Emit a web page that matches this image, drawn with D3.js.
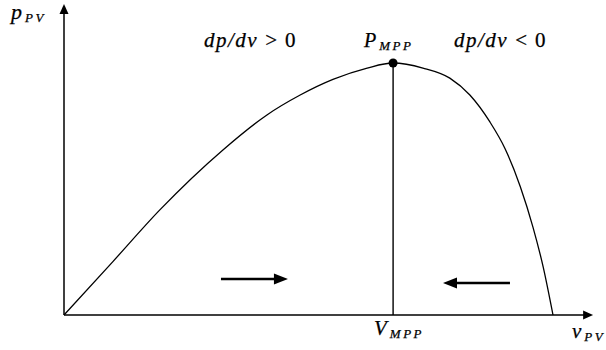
<!DOCTYPE html>
<html>
<head>
<meta charset="utf-8">
<script src="https://cdn.jsdelivr.net/npm/d3@7"></script>
<style>
  html, body { margin: 0; padding: 0; background: #fff; }
  svg { display: block; }
  text { font-family: "Liberation Serif", "Times New Roman", serif; font-style: italic; fill: #000;
         stroke: #000; stroke-width: 0.25; }
</style>
</head>
<body>
<svg id="chart" width="606" height="350"></svg>
<script>
// PV power–voltage characteristic, per-unit (v / Voc, p / Pmpp)
const voltage = [0, 0.100, 0.196, 0.325, 0.415, 0.483, 0.550, 0.620,
                 0.673, 0.734, 0.789, 0.830, 0.871, 0.902, 0.933, 0.959, 0.980, 1.0];
const power   = [0, 0.212, 0.417, 0.655, 0.794, 0.873, 0.935, 0.980,
                 1.0, 0.980, 0.940, 0.873, 0.766, 0.660, 0.510, 0.349, 0.190, 0];

// maximum power point
const vMpp = [0.673];
const pMpp = [1.0];

// axis extents (per-unit)
const vAxisMax = [1.082];
const pAxisMax = [1.234];

// text labels: [main, subscript]
const yLabel = ["p", "PV"];
const xLabel = ["v", "PV"];
const mppLabel = ["P", "MPP"];
const vMppLabel = ["V", "MPP"];
// slope conditions: [expression, relation, value]
const slopeLabels = [["dp/dv", ">", "0"], ["dp/dv", "<", "0"]];

const svg = d3.select("#chart");

const x = d3.scaleLinear().domain([0, 1]).range([64, 553]);
const y = d3.scaleLinear().domain([0, 1]).range([315, 63]);

// filled triangle with its tip at (tx, ty)
function head(tx, ty, dir, len, half) {
  let pts;
  if (dir === "right") pts = [[tx, ty], [tx - len, ty - half], [tx - len, ty + half]];
  if (dir === "left")  pts = [[tx, ty], [tx + len, ty - half], [tx + len, ty + half]];
  if (dir === "up")    pts = [[tx, ty], [tx - half, ty + len], [tx + half, ty + len]];
  return "M" + pts.map(p => p.join(",")).join("L") + "Z";
}

// axes with arrowheads
const axisG = svg.append("g");
axisG.append("line")
  .attr("x1", x(0)).attr("y1", y(0))
  .attr("x2", x(vAxisMax[0]) - 6).attr("y2", y(0))
  .attr("stroke", "#000").attr("stroke-width", 1.5);
axisG.append("line")
  .attr("x1", x(0)).attr("y1", y(0))
  .attr("x2", x(0)).attr("y2", y(pAxisMax[0]) + 6)
  .attr("stroke", "#000").attr("stroke-width", 1.5);
axisG.append("path").attr("d", head(x(vAxisMax[0]), y(0), "right", 10, 4.5)).attr("fill", "#000");
axisG.append("path").attr("d", head(x(0), y(pAxisMax[0]), "up", 10, 4.5)).attr("fill", "#000");

// P–V curve
const pts = voltage.map((v, i) => [v, power[i]]);
const line = d3.line()
  .x(d => x(d[0]))
  .y(d => y(d[1]))
  .curve(d3.curveMonotoneX);
svg.append("path")
  .datum(pts)
  .attr("d", line)
  .attr("fill", "none")
  .attr("stroke", "#000")
  .attr("stroke-width", 1.3);

// vertical line at V_MPP and MPP marker
svg.append("line")
  .attr("x1", x(vMpp[0])).attr("y1", y(pMpp[0]))
  .attr("x2", x(vMpp[0])).attr("y2", y(0))
  .attr("stroke", "#000").attr("stroke-width", 1.4);
svg.append("circle")
  .attr("cx", x(vMpp[0])).attr("cy", y(pMpp[0]))
  .attr("r", 4.5).attr("fill", "#000");

// tracking direction arrows
function dirArrow(v0, v1, p) {
  const xs = x(v0), xe = x(v1), yy = y(p);
  const dir = xe > xs ? "right" : "left";
  const len = 14;
  svg.append("line")
    .attr("x1", xs).attr("y1", yy)
    .attr("x2", dir === "right" ? xe - len + 1 : xe + len - 1).attr("y2", yy)
    .attr("stroke", "#000").attr("stroke-width", 2.6);
  svg.append("path").attr("d", head(xe, yy, dir, len, 5.5)).attr("fill", "#000");
}
dirArrow(0.321, 0.458, 0.143);
dirArrow(0.912, 0.775, 0.127);

// labels with subscripts
function subLabel(main, sub, tx, ty, size, subSize) {
  const t = svg.append("text").attr("x", tx).attr("y", ty).attr("font-size", size);
  t.append("tspan").text(main);
  t.append("tspan").attr("font-size", subSize).attr("dy", 3).attr("dx", 3)
    .attr("letter-spacing", 2.5).text(sub);
  return t;
}
subLabel(yLabel[0], yLabel[1], 11, 19, 22, 13);
subLabel(mppLabel[0], mppLabel[1], 364, 47, 20, 13);
subLabel(vMppLabel[0], vMppLabel[1], 374, 335, 21, 13);
subLabel(xLabel[0], xLabel[1], 572, 338, 21, 13);

function slopeLabel(parts, tx, ty) {
  const t = svg.append("text").attr("x", tx).attr("y", ty).attr("font-size", 21);
  t.append("tspan").attr("letter-spacing", 1.5).text(parts[0]);
  t.append("tspan").attr("dx", 7).style("font-style", "normal").text(parts[1]);
  t.append("tspan").attr("dx", 8).style("font-style", "normal").text(parts[2]);
}
slopeLabel(slopeLabels[0], 204, 47);
slopeLabel(slopeLabels[1], 454, 47);
</script>
</body>
</html>
